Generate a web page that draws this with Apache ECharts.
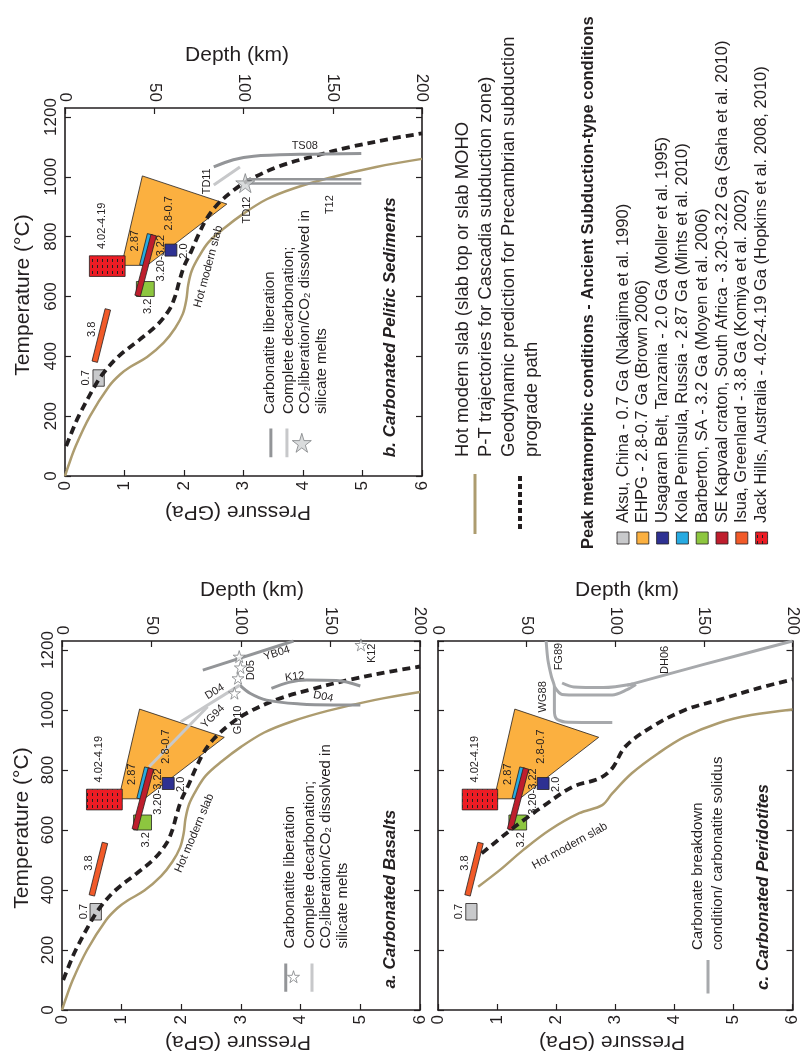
<!DOCTYPE html>
<html>
<head>
<meta charset="utf-8">
<script src="https://cdn.jsdelivr.net/npm/echarts@6.0.0/dist/echarts.min.js"></script>
<style>html,body{margin:0;padding:0;background:#fff;}#chart{width:801px;height:1059px;}</style>
</head>
<body>
<div id="chart"></div>
<script>
// ===== Axis scales =====
const pressureTicks = [0, 1, 2, 3, 4, 5, 6];                    // GPa
const depthTicks = [0, 50, 100, 150, 200];                      // km
const temperatureTicks = [0, 200, 400, 600, 800, 1000, 1200];   // °C
const temperatureTop = 1230;

// ===== Model curves, points are [P (GPa), T (°C)] =====
const hotModernSlab = [[0,0],[0.05,30],[0.18,100],[0.42,200],[0.74,300],[0.93,340],[1.1,365],[1.38,398],[1.66,446],[1.85,494],[1.98,542],[2.04,590],[2.07,638],[2.13,686],[2.25,733],[2.41,781],[2.68,829],[3.0,877],[3.39,925],[3.84,961],[4.45,997],[5.23,1033],[6,1060]];
const precambrianPath = [[0.02,100],[0.1,140],[0.23,200],[0.5,300],[0.65,345],[0.9,400],[1.25,455],[1.55,505],[1.75,555],[1.85,600],[1.92,650],[2.0,700],[2.12,750],[2.24,805],[2.38,860],[2.55,905],[2.8,950],[3.1,990],[3.6,1035],[4.2,1070],[4.8,1100],[5.5,1128],[6,1145]];
const hotSlabPeridotite = [[0.68,411],[1.05,467],[1.44,533],[1.89,600],[2.39,656],[2.78,683],[2.95,722],[3.28,789],[3.73,856],[4.18,911],[4.74,956],[5.30,983],[6,1002]];
const precambrianPathPeridotite = [[0.74,522],[1.19,594],[1.5,640],[1.77,678],[2.28,744],[2.73,772],[2.95,806],[3.17,878],[3.62,944],[4.18,1000],[4.74,1033],[5.41,1072],[6,1102]];

// ===== Panel b: pelitic sediments experiments =====
const ts08 = [[2.5,1033],[2.83,1057],[3.17,1069],[3.95,1075],[4.98,1078]];
const td11 = [[2.5,973],[2.94,1033]];
const t12Upper = [[3.06,992],[4.98,992]];
const t12Lower = [[3.06,978],[4.98,978]];
const td12Star = [[3.03,979]];

// ===== Panel a: basalt experiments =====
const yb04 = [[2.36,1133],[3.88,1230]];
const k12 = [[3.51,1072],[3.8,1092],[4.1,1100],[4.6,1098],[5.0,1080]];
const d04Liberation = [[2.98,1083],[3.15,1056],[3.43,1033],[3.99,1020],[4.55,1017],[5.0,1017]];
const d04Melt = [[1.99,961],[2.98,1083]];
const yg94 = [[1.46,811],[2.44,1011]];
const basaltStars = [[2.89,1056],[2.95,1106],[2.99,1142],[2.97,1178],[5.01,1217]];

// ===== Panel c: peridotite experiments =====
const wg88 = [[1.83,1230],[1.86,1167],[1.92,1111],[1.97,1078],[1.97,1000],[2.0,972],[2.15,960],[2.95,958]];
const fg89 = [[1.97,1078],[2.1,1052],[2.4,1050],[2.95,1050],[3.2,1068],[3.35,1085]];
const dh06Branch = [[2.1,1090],[2.3,1077],[2.8,1075],[3.3,1087]];
const dh06 = [[3.2,1082],[4.5,1152],[6,1230]];

// ===== Peak metamorphic conditions =====
const aksuBox = [[0.47,300],[0.66,355]];
const jackHillsBox = [[0.41,667],[1.01,736]];
const barbertonBox = [[1.20,600],[1.50,650]];
const usagaranBox = [[1.68,735],[1.88,775]];
const ehpgPolygon = [[0.95,704],[1.30,1003],[2.72,909],[1.38,704]];
const isuaBar = [[0.50,382],[0.72,557]];
const kolaBar = [[1.30,704],[1.43,808]];
const kapvaalBar = [[1.22,602],[1.49,805]];

const ageLabels = ['0.7','3.8','4.02-4.19','2.87','3.20-3.22','3.2','2.0','2.8-0.7'];
const ageLabelPos = [[0.36,328],[0.46,490],[0.62,836],[1.18,786],[1.61,728],[1.40,567],[2.0,752],[1.74,878]];

const legendModels = ['Hot modern slab (slab top or slab MOHO', 'P-T trajectories for Cascadia subduction zone)', 'Geodynamic prediction for Precambrian subduction', 'prograde path'];
const legendTitle = 'Peak metamorphic conditions - Ancient Subduction-type conditions';
const legendSites = [
  'Aksu, China - 0.7 Ga (Nakajima et al. 1990)',
  'EHPG - 2.8-0.7 Ga (Brown 2006)',
  'Usagaran Belt, Tanzania - 2.0 Ga (Moller et al. 1995)',
  'Kola Peninsula, Russia - 2.87 Ga (Mints et al. 2010)',
  'Barberton, SA - 3.2 Ga (Moyen et al. 2006)',
  'SE Kapvaal craton, South Africa - 3.20-3.22 Ga (Saha et al. 2010)',
  'Isua, Greenland - 3.8 Ga (Komiya et al. 2002)',
  'Jack Hills, Australia - 4.02-4.19 Ga (Hopkins et al. 2008, 2010)'
];

// ===== Styles =====
const FONT = "'Liberation Sans', Arial, Helvetica, sans-serif";
const INK = '#231F20';
const TAN = '#AD9C6F';
const DARKGRAY = '#939598';
const LIGHTGRAY = '#C7C8CA';
const MIDGRAY = '#A7A9AC';
const C = {aksu:'#C8C9CB', ehpg:'#FBB040', usagaran:'#2E3192', kola:'#27AAE1', barberton:'#8DC63F', kapvaal:'#BE1E2D', isua:'#F15A29', jack:'#ED1C24'};
const STAR = 'path://M50,0 L61,35 L98,35 L68,57 L79,91 L50,70 L21,91 L32,57 L2,35 L39,35 Z';

function dotPattern() {
  const c = document.createElement('canvas');
  c.width = 5; c.height = 6;
  const x = c.getContext('2d');
  x.fillStyle = C.jack; x.fillRect(0,0,5,6);
  x.fillStyle = INK; x.fillRect(2,1,1,3);
  return {type:'pattern', image:c, repeat:'repeat'};
}
const JACK_FILL = dotPattern();

const shapes = [
  {kind:'poly', pts:ehpgPolygon, fill:C.ehpg},
  {kind:'rect', pts:aksuBox, fill:C.aksu},
  {kind:'rect', pts:jackHillsBox, fill:JACK_FILL},
  {kind:'rect', pts:barbertonBox, fill:C.barberton},
  {kind:'rect', pts:usagaranBox, fill:C.usagaran},
  {kind:'bar', pts:isuaBar, fill:C.isua},
  {kind:'bar', pts:kolaBar, fill:C.kola},
  {kind:'bar', pts:kapvaalBar, fill:C.kapvaal}
];

// grid layout: 0 = b (top-left), 1 = a (bottom-left), 2 = c (bottom-right)
const grids = [
  {left:65, top:108, width:357, height:368},
  {left:62, top:641, width:358, height:369},
  {left:438, top:641, width:357, height:369}
];

function shapesSeries(g) {
  return {
    type:'custom', xAxisIndex:2*g, yAxisIndex:2*g, silent:true, z:2,
    data: shapes.map((s,i) => [s.pts[0][0], s.pts[0][1], i]),
    renderItem: (params, api) => {
      const s = shapes[api.value(2)];
      let pts;
      if (s.kind === 'rect') {
        const a = api.coord(s.pts[0]), b = api.coord(s.pts[1]);
        pts = [[a[0],a[1]],[b[0],a[1]],[b[0],b[1]],[a[0],b[1]]];
      } else if (s.kind === 'poly') {
        pts = s.pts.map(p => api.coord(p));
      } else {
        const a = api.coord(s.pts[0]), b = api.coord(s.pts[1]);
        const dx = b[0]-a[0], dy = b[1]-a[1], L = Math.hypot(dx,dy), hw = 2.8;
        const nx = -dy/L*hw, ny = dx/L*hw;
        pts = [[a[0]+nx,a[1]+ny],[b[0]+nx,b[1]+ny],[b[0]-nx,b[1]-ny],[a[0]-nx,a[1]-ny]];
      }
      return {type:'polygon', shape:{points:pts}, style:{fill:s.fill, stroke:INK, lineWidth:0.8}};
    }
  };
}

function lineS(g, data, color, width, dashed, smooth) {
  return {
    type:'line', xAxisIndex:2*g, yAxisIndex:2*g, data, symbol:'none', silent:true, z:3,
    smooth: smooth === undefined ? 0.35 : smooth,
    lineStyle:{color, width, type: dashed ? [8,5] : 'solid', cap:'butt'}
  };
}

function starS(g, data, size, fill, border) {
  return {type:'scatter', xAxisIndex:2*g, yAxisIndex:2*g, data, symbol:STAR, symbolSize:size, silent:true, z:4,
    itemStyle:{color:fill, borderColor:border, borderWidth:1}};
}

function textS(g, items) {
  return {
    type:'custom', xAxisIndex:2*g, yAxisIndex:2*g, silent:true, z:6,
    data: items.map((it,i) => [it.pos[0], it.pos[1], i]),
    renderItem: (params, api) => {
      const it = items[api.value(2)];
      const c = api.coord([api.value(0), api.value(1)]);
      const al = it.align || 'center';
      return {type:'text', x:c[0], y:c[1], rotation:(it.rot||0)*Math.PI/180,
        style:{text:it.text, fill:INK, font:(it.font || 'normal normal') + ' ' + (it.size||11) + 'px ' + FONT,
          align:al, textAlign:al, verticalAlign:'middle', textVerticalAlign:'middle'}};
    }
  };
}

function ageItems(hotPos, hotRot) {
  const items = ageLabels.map((t,i) => ({pos:ageLabelPos[i], text:t, rot:90, size:11}));
  items.push({pos:hotPos, text:'Hot modern slab', rot:hotRot, size:11.5});
  return items;
}

const series = [];
// ---- Panel b ----
series.push(shapesSeries(0));
series.push(lineS(0, hotModernSlab, TAN, 2.5));
series.push(lineS(0, precambrianPath, INK, 3.8, true));
series.push(lineS(0, ts08, DARKGRAY, 3));
series.push(lineS(0, td11, LIGHTGRAY, 3, false, 0));
series.push(lineS(0, t12Upper, DARKGRAY, 2.5, false, 0));
series.push(lineS(0, t12Lower, DARKGRAY, 2.5, false, 0));
series.push(starS(0, td12Star, 19, '#D1D3D4', '#808285'));
series.push(lineS(0, [[3.46,63],[3.46,159]], DARKGRAY, 3, false, 0));
series.push(lineS(0, [[3.73,63],[3.73,159]], LIGHTGRAY, 3, false, 0));
series.push(starS(0, [[3.98,111]], 19, '#D1D3D4', '#808285'));
series.push(textS(0, ageItems([2.41,700], 75).concat([
  {pos:[4.03,1104], text:'TS08'},
  {pos:[2.39,985], text:'TD11', rot:90},
  {pos:[3.05,889], text:'TD12', rot:90},
  {pos:[4.45,907], text:'T12', rot:90},
  {pos:[3.45,207], text:'Carbonatite liberation', rot:90, size:15, align:'left'},
  {pos:[3.76,207], text:'Complete decarbonation;', rot:90, size:15, align:'left'},
  {pos:[4.03,207], text:'CO\u2082liberation/CO\u2082 dissolved in', rot:90, size:15, align:'left'},
  {pos:[4.31,207], text:'silicate melts', rot:90, size:15, align:'left'},
  {pos:[5.46,63], text:'b. Carbonated Pelitic Sediments', rot:90, size:17, align:'left', font:'italic bold'}
])));

// ---- Panel a ----
series.push(shapesSeries(1));
series.push(lineS(1, hotModernSlab, TAN, 2.5));
series.push(lineS(1, precambrianPath, INK, 3.8, true));
series.push(lineS(1, yb04, DARKGRAY, 3, false, 0));
series.push(lineS(1, k12, DARKGRAY, 3));
series.push(lineS(1, d04Liberation, DARKGRAY, 3));
series.push(lineS(1, d04Melt, LIGHTGRAY, 3, false, 0));
series.push(lineS(1, yg94, LIGHTGRAY, 3, false, 0));
series.push(starS(1, basaltStars, 12, '#FFFFFF', '#808285'));
series.push(lineS(1, [[3.75,61],[3.75,155]], DARKGRAY, 3, false, 0));
series.push(starS(1, [[3.88,111]], 12, '#FFFFFF', '#808285'));
series.push(lineS(1, [[4.19,61],[4.19,155]], LIGHTGRAY, 3, false, 0));
series.push(textS(1, ageItems([2.22,589], 67).concat([
  {pos:[2.56,1061], text:'D04', rot:32},
  {pos:[2.53,978], text:'YG94', rot:46},
  {pos:[2.95,967], text:'GD10', rot:90},
  {pos:[3.17,1133], text:'D05', rot:90},
  {pos:[3.60,1189], text:'YB04', rot:18},
  {pos:[3.90,1111], text:'K12', rot:8},
  {pos:[4.38,1044], text:'D04', rot:-12},
  {pos:[5.2,1189], text:'K12', rot:90},
  {pos:[3.82,205], text:'Carbonatite liberation', rot:90, size:15, align:'left'},
  {pos:[4.16,205], text:'Complete decarbonation;', rot:90, size:15, align:'left'},
  {pos:[4.42,205], text:'CO\u2082liberation/CO\u2082 dissolved in', rot:90, size:15, align:'left'},
  {pos:[4.70,205], text:'silicate melts', rot:90, size:15, align:'left'},
  {pos:[5.51,72], text:'a. Carbonated Basalts', rot:90, size:17, align:'left', font:'italic bold'}
])));

// ---- Panel c ----
series.push(shapesSeries(2));
series.push(lineS(2, hotSlabPeridotite, TAN, 2.5));
series.push(lineS(2, precambrianPathPeridotite, INK, 3.8, true));
series.push(lineS(2, wg88, MIDGRAY, 3, false, 0.25));
series.push(lineS(2, fg89, MIDGRAY, 3, false, 0.3));
series.push(lineS(2, dh06Branch, MIDGRAY, 3, false, 0.3));
series.push(lineS(2, dh06, MIDGRAY, 3, false, 0.2));
series.push(lineS(2, [[4.57,55],[4.57,167]], MIDGRAY, 3, false, 0));
series.push(textS(2, ageItems([2.23,547], 29).concat([
  {pos:[1.77,1044], text:'WG88', rot:90},
  {pos:[2.05,1178], text:'FG89', rot:90},
  {pos:[3.84,1167], text:'DH06', rot:90},
  {pos:[4.40,200], text:'Carbonate breakdown', rot:90, size:15, align:'left'},
  {pos:[4.74,200], text:'condition/ carbonatite solidus', rot:90, size:15, align:'left'},
  {pos:[5.5,67], text:'c. Carbonated Peridotites', rot:90, size:17, align:'left', font:'italic bold'}
])));

// ===== Axes =====
const xAxis = [], yAxis = [];
const axisLine = {show:true, onZero:false, lineStyle:{color:INK, width:1.6}};
const axisTick = {show:true, inside:true, length:6, lineStyle:{color:INK, width:1.2}};
const lbl = {rotate:90, fontSize:17, color:INK, fontFamily:FONT, formatter: v => String(v)};
grids.forEach((g, i) => {
  xAxis.push({type:'value', gridIndex:i, position:'bottom', min:pressureTicks[0], max:pressureTicks[pressureTicks.length-1], interval:pressureTicks[1]-pressureTicks[0],
    axisLine, axisTick, splitLine:{show:false}, axisLabel:Object.assign({margin:5}, lbl)});
  xAxis.push({type:'value', gridIndex:i, position:'top', min:depthTicks[0], max:depthTicks[depthTicks.length-1], interval:depthTicks[1]-depthTicks[0],
    axisLine, axisTick, splitLine:{show:false}, axisLabel:Object.assign({margin:6}, lbl)});
  yAxis.push({type:'value', gridIndex:i, position:'left', min:temperatureTicks[0], max:temperatureTop, interval:temperatureTicks[1]-temperatureTicks[0],
    axisLine, axisTick, splitLine:{show:false}, axisLabel:Object.assign({margin:5, show:i!==2, showMaxLabel:false}, lbl)});
  yAxis.push({type:'value', gridIndex:i, position:'right', min:temperatureTicks[0], max:temperatureTop, interval:temperatureTicks[1]-temperatureTicks[0],
    axisLine, axisTick, splitLine:{show:false}, axisLabel:{show:false}});
});

// ===== Titles and right legend (page layout) =====
function gText(x, y, text, size, rot, align, weight) {
  return {type:'text', x, y, rotation:rot, silent:true,
    style:{text, fill:INK, font:(weight||'normal') + ' ' + size + 'px ' + FONT, align, textAlign:align, verticalAlign:'middle', textVerticalAlign:'middle'}};
}
const graphic = [];
const H = Math.PI/2;
// axis titles
graphic.push(gText(237, 55, 'Depth (km)', 21, 0, 'center'));
graphic.push(gText(252, 590, 'Depth (km)', 21, 0, 'center'));
graphic.push(gText(627, 590, 'Depth (km)', 21, 0, 'center'));
graphic.push(gText(23, 295, 'Temperature (\u00B0C)', 21, H, 'center'));
graphic.push(gText(22, 828, 'Temperature (\u00B0C)', 21, H, 'center'));
graphic.push(gText(238, 512, 'Pressure (GPa)', 21, Math.PI, 'center'));
graphic.push(gText(238, 1042, 'Pressure (GPa)', 21, Math.PI, 'center'));
graphic.push(gText(612, 1042, 'Pressure (GPa)', 21, Math.PI, 'center'));
// model legend
graphic.push({type:'line', silent:true, shape:{x1:475, y1:474, x2:475, y2:534}, style:{stroke:TAN, lineWidth:3}});
graphic.push({type:'line', silent:true, shape:{x1:520, y1:476, x2:520, y2:530}, style:{stroke:INK, lineWidth:4, lineDash:[5,3]}});
[463, 486, 509, 532].forEach((x, i) => graphic.push(gText(x, 457, legendModels[i], 18.5, H, 'left')));
// site legend
graphic.push(gText(588, 549, legendTitle, 16.5, H, 'left', 'bold'));
const siteFills = [C.aksu, C.ehpg, C.usagaran, C.kola, C.barberton, C.kapvaal, C.isua, JACK_FILL];
legendSites.forEach((t, i) => {
  const x = 623 + i*19.8;
  graphic.push({type:'rect', silent:true, shape:{x:x-6, y:532, width:12, height:12}, style:{fill:siteFills[i], stroke:INK, lineWidth:0.8}});
  graphic.push(gText(x, 523, t, 16.5, H, 'left'));
});

const chart = echarts.init(document.getElementById('chart'), null, {renderer:'canvas'});
chart.setOption({animation:false, backgroundColor:'#fff', grid:grids, xAxis, yAxis, series, graphic});
</script>
</body>
</html>
